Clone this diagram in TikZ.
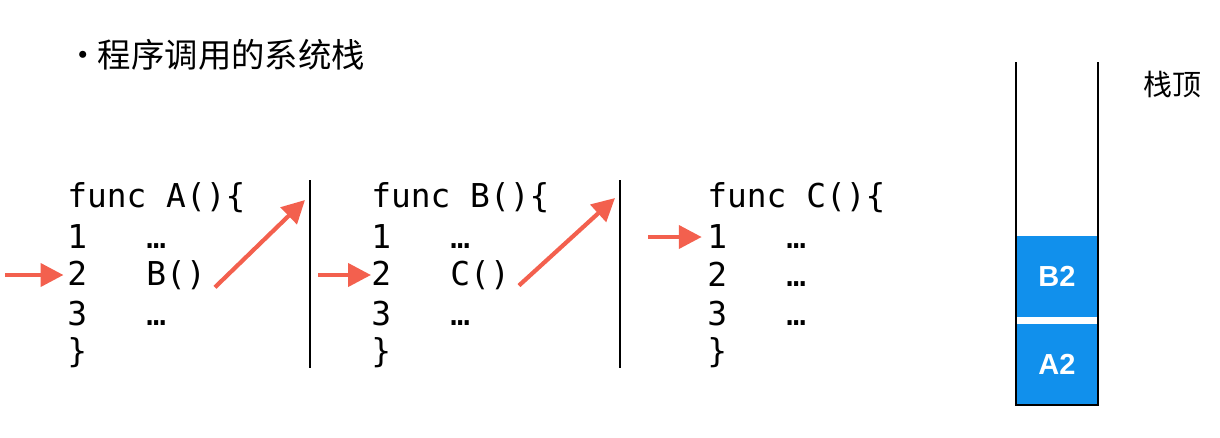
\documentclass[tikz,border=0pt]{standalone}
\usepackage{fontspec}
\usetikzlibrary{arrows.meta,positioning,calc}
\newfontfamily\cjk{Noto Sans CJK SC}
\newfontfamily\codefont{DejaVu Sans Mono}
\newfontfamily\labelfont{Liberation Sans}
\definecolor{callred}{HTML}{F3604E}
\definecolor{stackblue}{HTML}{1190EC}
\tikzset{
  codeline/.style={anchor=west,inner sep=0pt,font=\codefont\fontsize{18.7}{22}\selectfont},
  callarrow/.style={callred,line width=2.4pt,-{Triangle[length=13pt,width=13pt]}},
  frame/.style={stackblue,fill=stackblue,inner sep=0pt,minimum width=1.64cm,
    minimum height=1.62cm,text=white,font=\labelfont\bfseries\fontsize{16.5}{18}\selectfont}
}
\newcommand{\gap}{\phantom{000}}

\begin{document}
\begin{tikzpicture}[x=0.02cm,y=-0.02cm]
\useasboundingbox (0,0) rectangle (1220,437);
% title
\node[anchor=west,inner sep=0pt,font=\cjk\fontsize{19}{22}\selectfont] (title) at (66,55) {•\hspace{-1pt}程序调用的系统栈};
% func A
\node[codeline] (a0) at (67,198) {func A()\{};
\node[codeline] (a1) at (67,237) {1\gap …};
\node[codeline] (a2) at (67,275) {2\gap B()};
\node[codeline] (a3) at (67,314) {3\gap …};
\node[codeline] (a4) at (67,353) {\}};
% func B
\node[codeline] (b0) at (371,198) {func B()\{};
\node[codeline] (b1) at (371,237) {1\gap …};
\node[codeline] (b2) at (371,275) {2\gap C()};
\node[codeline] (b3) at (371,314) {3\gap …};
\node[codeline] (b4) at (371,353) {\}};
% func C
\node[codeline] (c0) at (707,198) {func C()\{};
\node[codeline] (c1) at (707,237) {1\gap …};
\node[codeline] (c2) at (707,275) {2\gap …};
\node[codeline] (c3) at (707,314) {3\gap …};
\node[codeline] (c4) at (707,353) {\}};
% separators
\coordinate (s1t) at (310,180);
\coordinate (s1b) at (310,368);
\coordinate (s2t) at (620,180);
\coordinate (s2b) at (620,368);
\draw[line width=0.8pt] (s1t) -- (s1b);
\draw[line width=0.8pt] (s2t) -- (s2b);
% current line arrows
\coordinate (inA) at (5,275);
\coordinate (inB) at (318,275);
\coordinate (inC) at (648,237);
\draw[callarrow] (inA) -- ([xshift=-2pt]a2.west);
\draw[callarrow] (inB) -- ([xshift=0pt]b2.west);
\draw[callarrow] (inC) -- ([xshift=-3pt]c1.west);
% call arrows
\coordinate (toB) at (305,200);
\coordinate (toC) at (615,198);
\draw[callarrow] ([xshift=5pt,yshift=-7pt]a2.east) -- (toB);
\draw[callarrow] ([xshift=5pt,yshift=-6pt]b2.east) -- (toC);
% stack
\node[frame] (fA) at (1057,364) {A2};
\node[frame] (fB) at (1057,276) {B2};
\draw[line width=1.1pt] (1016,62) -- (1016,405) -- (1098,405) -- (1098,62);
\node[font=\cjk\fontsize{16.5}{18}\selectfont] (top) at (1172,85) {栈顶};
\end{tikzpicture}
\end{document}
